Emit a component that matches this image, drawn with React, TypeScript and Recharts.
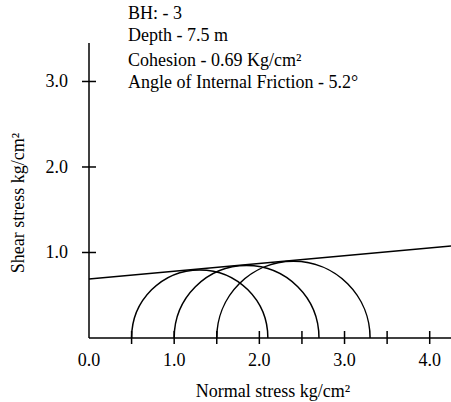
import React from 'react';
import { LineChart, Line, XAxis, YAxis, ReferenceLine } from 'recharts';

// Mohr circles: minor and major principal stresses of each test (kg/cm²)
const SIGMA_3 = [0.5, 1.0, 1.5];
const SIGMA_1 = [2.1, 2.7, 3.3];

// failure envelope, read at the left and right edges of the plot
const ENVELOPE_X = [0, 4.25];
const ENVELOPE_Y = [0.69, 1.076];

const X_TICKS = [0, 0.5, 1, 1.5, 2, 2.5, 3, 3.5, 4];
const Y_TICKS = [1, 2, 3];

const NOTES = [
    'BH: - 3',
    'Depth - 7.5 m',
    'Cohesion - 0.69 Kg/cm²',
    'Angle of Internal Friction - 5.2°',
];
const NOTE_BASELINES = [19, 40.5, 66, 88];

const FONT = '"Liberation Serif", "Times New Roman", serif';
const INK = '#000';

const envelopeData = ENVELOPE_X.map((x, i) => ({ x, y: ENVELOPE_Y[i] }));

const XTick = (props: any) => {
    const { x, y, payload } = props;
    const v = payload.value as number;
    return (
        <g>
            {v > 0 && <line x1={x} x2={x} y1={y - 7} y2={y + 6} stroke={INK} strokeWidth={1.5} />}
            {Number.isInteger(v) && (
                <text x={x} y={y + 28} textAnchor="middle" fontFamily={FONT} fontSize={18} fill={INK}>
                    {v.toFixed(1)}
                </text>
            )}
        </g>
    );
};

const YTick = (props: any) => {
    const { x, y, payload } = props;
    return (
        <g>
            <line x1={x - 7} x2={x + 7} y1={y} y2={y} stroke={INK} strokeWidth={1.5} />
            <text x={x - 21} y={y + 6} textAnchor="end" fontFamily={FONT} fontSize={18} fill={INK}>
                {(payload.value as number).toFixed(1)}
            </text>
        </g>
    );
};

// draws the upper half of a circle on the diameter given by the segment end points
const HalfCircle = (props: any) => {
    const { x1, y1, x2, y2 } = props;
    const r = Math.abs(x2 - x1) / 2;
    return (
        <path
            d={`M${x1},${y1} A${r},${r} 0 0 1 ${x2},${y2}`}
            fill="none"
            stroke={INK}
            strokeWidth={1.5}
        />
    );
};

export default function App() {
    return (
        <div style={{ position: 'absolute', left: 0, top: 0, width: 451, height: 402, background: '#fff' }}>
            <LineChart
                width={451}
                height={402}
                data={envelopeData}
                margin={{ top: 43, right: 0, bottom: 0, left: 0 }}
            >
                <XAxis
                    dataKey="x"
                    type="number"
                    domain={[0, 4.25]}
                    ticks={X_TICKS}
                    interval={0}
                    allowDataOverflow
                    height={64}
                    tickSize={0}
                    tickMargin={0}
                    tickLine={false}
                    axisLine={{ stroke: INK, strokeWidth: 1.5 }}
                    tick={XTick}
                />
                <YAxis
                    type="number"
                    domain={[0, 3.45]}
                    ticks={Y_TICKS}
                    interval={0}
                    allowDataOverflow
                    width={89}
                    tickSize={0}
                    tickMargin={0}
                    tickLine={false}
                    axisLine={{ stroke: INK, strokeWidth: 1.5 }}
                    tick={YTick}
                />
                {SIGMA_3.map((s3, i) => (
                    <ReferenceLine
                        key={i}
                        segment={[{ x: s3, y: 0 }, { x: SIGMA_1[i], y: 0 }]}
                        shape={HalfCircle}
                    />
                ))}
                <Line
                    dataKey="y"
                    type="linear"
                    stroke={INK}
                    strokeWidth={1.5}
                    dot={false}
                    isAnimationActive={false}
                />
            </LineChart>
            <svg
                width={451}
                height={402}
                style={{ position: 'absolute', left: 0, top: 0, pointerEvents: 'none' }}
            >
                {NOTES.map((t, i) => (
                    <text key={i} x={128} y={NOTE_BASELINES[i]} fontFamily={FONT} fontSize={18} fill={INK}>
                        {t}
                    </text>
                ))}
                <text x={273} y={397} textAnchor="middle" fontFamily={FONT} fontSize={18} fill={INK}>
                    Normal stress kg/cm²
                </text>
                <text
                    x={24}
                    y={203}
                    textAnchor="middle"
                    fontFamily={FONT}
                    fontSize={18}
                    fill={INK}
                    transform="rotate(-90, 24, 203)"
                >
                    Shear stress kg/cm²
                </text>
            </svg>
        </div>
    );
}
